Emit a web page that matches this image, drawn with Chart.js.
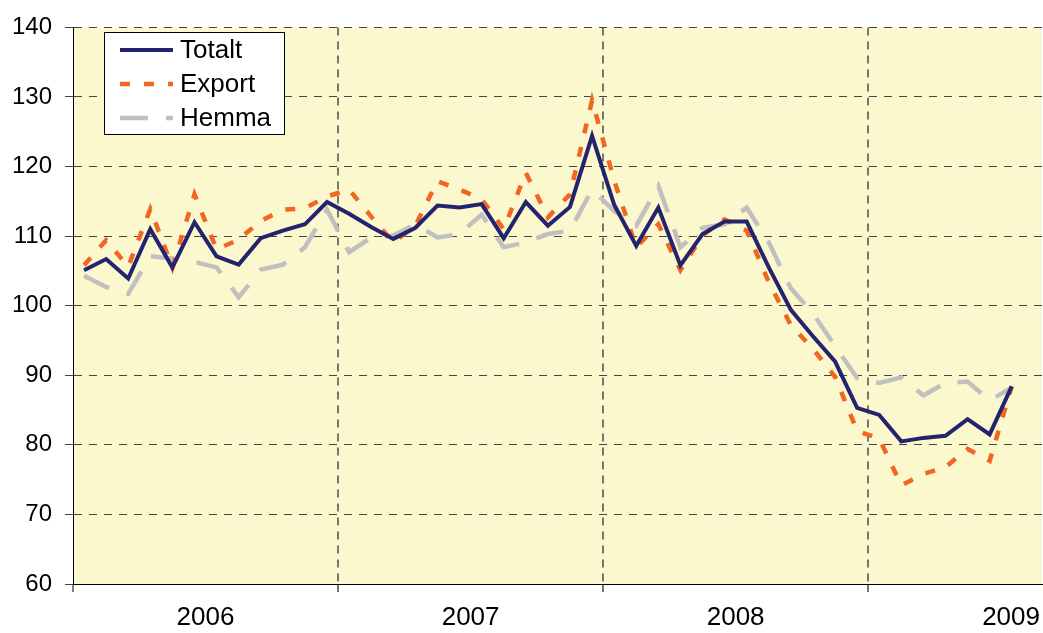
<!DOCTYPE html>
<html lang="sv">
<head>
<meta charset="utf-8">
<title>Totalt, Export, Hemma 2006–2009</title>
<script src="https://cdn.jsdelivr.net/npm/chart.js@4.4.1/dist/chart.umd.min.js"></script>
<style>
  html, body { margin: 0; padding: 0; background: #fff; overflow: hidden; }
  /* a bit wider than the window: the plot runs off the right edge like the original */
  #wrap { width: 1050px; height: 633px; position: relative; }
</style>
</head>
<body>
<div id="wrap"><canvas id="chart"></canvas></div>
<script>
// Months from Jan 2006 to Jul 2009, one value per month
const years = ['2006', '2007', '2008', '2009'];

const totalt = [
  105.1, 106.7, 103.9, 111.0, 105.5, 112.0, 107.1, 105.9, 109.7, 110.8, 111.7, 114.9,
  113.2, 111.3, 109.6, 111.2, 114.4, 114.1, 114.6, 109.7, 114.9, 111.5, 114.2, 124.4,
  114.5, 108.6, 114.1, 105.8, 110.3, 112.1, 112.1, 105.5, 99.4, 95.6, 92.0, 85.3,
  84.3, 80.5, 81.0, 81.3, 83.7, 81.5, 88.4
];

const exportValues = [
  105.8, 109.4, 105.6, 113.9, 105.5, 116.0, 108.1, 109.5, 112.2, 113.8, 114.0, 115.7,
  116.7, 112.8, 109.1, 111.5, 117.9, 116.7, 115.3, 111.0, 119.1, 112.7, 116.0, 129.5,
  118.0, 108.4, 111.7, 105.1, 110.1, 112.4, 110.8, 103.4, 97.2, 93.8, 89.8, 82.0,
  80.9, 74.2, 75.8, 76.8, 79.4, 77.7, 88.4
];

const hemma = [
  104.3, 102.7, 101.7, 107.1, 106.8, 106.3, 105.5, 101.2, 105.2, 105.9, 108.4, 113.8,
  107.7, 109.8, 110.1, 111.7, 109.8, 110.3, 113.1, 108.4, 109.1, 110.3, 110.8, 116.7,
  113.6, 111.5, 117.2, 108.4, 111.2, 111.7, 114.1, 109.1, 102.5, 98.9, 94.2, 89.6,
  88.9, 89.7, 87.1, 88.9, 89.1, 86.4, 88.2
];

const yMin = 60;
const yMax = 140;
const yStep = 10;

// x runs in months, the plot is cut off a bit into 2009
const xAxisMax = 43.87;
const fontFamily = '"Liberation Sans", Arial, sans-serif';

// one tick at each year boundary (grid line), one in the middle (label)
const yearTicks = [];
years.forEach((year, i) => {
  const start = i * 12;
  yearTicks.push({ value: start, label: '' });
  // last year runs past the edge, keep its label inside
  const mid = i === years.length - 1 ? xAxisMax - 1.4 : start + 6;
  yearTicks.push({ value: mid, label: year });
});

const isYearStart = ctx => ctx.tick && ctx.tick.value % 12 === 0;

const toPoints = values => values.map((v, i) => ({ x: i + 0.5, y: v }));

const plotBackground = {
  id: 'plotBackground',
  beforeDraw(chart) {
    const { ctx, chartArea: a } = chart;
    ctx.save();
    ctx.fillStyle = '#FBF8CE';
    ctx.fillRect(a.left, a.top, a.right - a.left, a.bottom - a.top);
    ctx.restore();
  }
};

// legend box inside the plot, top left
const boxLegend = {
  id: 'boxLegend',
  afterDraw(chart) {
    const ctx = chart.ctx;
    ctx.save();
    ctx.fillStyle = '#fff';
    ctx.fillRect(105, 33, 179, 101);
    ctx.strokeStyle = '#000';
    ctx.lineWidth = 1;
    ctx.strokeRect(104.5, 32.5, 180, 102);
    chart.data.datasets.forEach((ds, i) => {
      const y = 50 + i * 34;
      ctx.beginPath();
      ctx.setLineDash(ds.borderDash || []);
      ctx.strokeStyle = ds.borderColor;
      ctx.lineWidth = ds.borderWidth;
      ctx.moveTo(120, y);
      ctx.lineTo(173, y);
      ctx.stroke();
      ctx.setLineDash([]);
      ctx.fillStyle = '#000';
      ctx.font = '26px ' + fontFamily;
      ctx.textBaseline = 'middle';
      ctx.fillText(ds.label, 180, y + 1);
    });
    ctx.restore();
  }
};

new Chart(document.getElementById('chart'), {
  type: 'line',
  data: {
    datasets: [
      {
        label: 'Totalt',
        data: toPoints(totalt),
        borderColor: '#23236E',
        borderWidth: 4
      },
      {
        label: 'Export',
        data: toPoints(exportValues),
        borderColor: '#F26522',
        borderWidth: 4.5,
        borderDash: [10, 14]
      },
      {
        label: 'Hemma',
        data: toPoints(hemma),
        borderColor: '#C0C0C0',
        borderWidth: 4.5,
        borderDash: [28, 18]
      }
    ]
  },
  options: {
    responsive: true,
    maintainAspectRatio: false,
    animation: false,
    layout: { padding: { top: 23, right: 0, bottom: 0, left: 0 } },
    elements: {
      point: { radius: 0 },
      line: { tension: 0, borderCapStyle: 'butt' }
    },
    plugins: {
      legend: { display: false },
      tooltip: { enabled: false }
    },
    scales: {
      x: {
        type: 'linear',
        min: 0,
        max: xAxisMax,
        afterBuildTicks: axis => {
          axis.ticks = yearTicks.map(t => ({ value: t.value }));
        },
        afterFit: axis => { axis.height = 49; },
        ticks: {
          autoSkip: false,
          maxRotation: 0,
          padding: 10,
          color: '#000',
          font: { family: fontFamily, size: 26 },
          callback: (value, index) => yearTicks[index].label
        },
        grid: {
          // no dashed line on top of the y axis itself
          color: ctx => (isYearStart(ctx) && ctx.tick.value > 0 ? '#77776C' : 'transparent'),
          tickColor: ctx => {
            if (!isYearStart(ctx)) return 'transparent';
            return ctx.tick.value === 0 ? '#000' : '#77776C';
          },
          lineWidth: 2,
          tickWidth: ctx => (ctx.tick && ctx.tick.value === 0 ? 1 : 2),
          tickLength: 8
        },
        border: { color: '#000', width: 1, dash: [8, 6] }
      },
      y: {
        min: yMin,
        max: yMax,
        afterFit: axis => { axis.width = 73; },
        ticks: {
          stepSize: yStep,
          padding: 13,
          color: '#000',
          font: { family: fontFamily, size: 24 }
        },
        grid: { color: '#444', lineWidth: 1, tickLength: 8 },
        border: { color: '#000', width: 1, dash: [8, 7] }
      }
    }
  },
  plugins: [plotBackground, boxLegend]
});
</script>
</body>
</html>
